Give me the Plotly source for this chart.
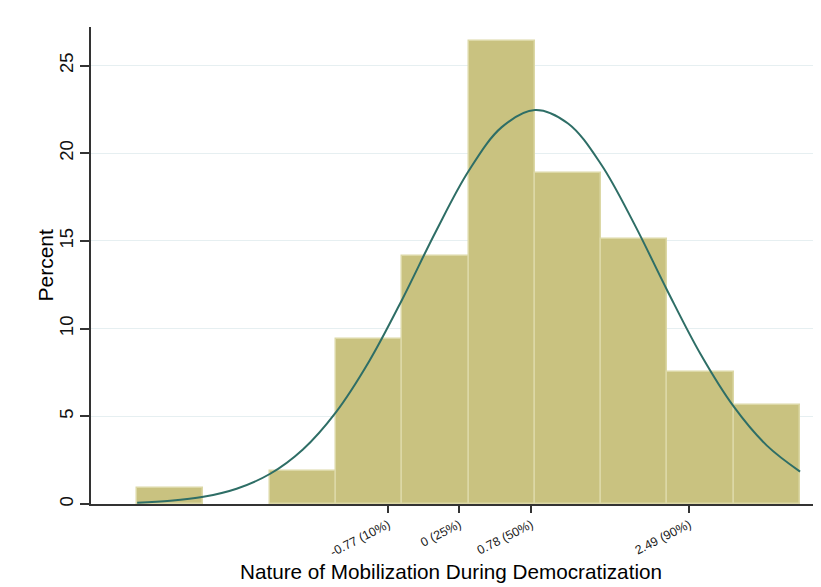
import plotly.graph_objects as go

# Histogram bins (centers) and percent heights
bin_centers = [-3.131, -2.413, -1.695, -0.977, -0.259, 0.459, 1.177, 1.895, 2.613, 3.331]
bin_width = 0.718
percents = [0.94, 0.0, 1.89, 9.43, 14.15, 26.42, 18.87, 15.09, 7.55, 5.66]

# Normal density overlay
curve_x = [-3.49, -3.131, -2.772, -2.413, -2.054, -1.695, -1.336, -0.977, -0.618, -0.259,
           0.100, 0.459, 0.818, 1.177, 1.536, 1.895, 2.254, 2.613, 2.972, 3.331, 3.69]
curve_y = [0.07, 0.18, 0.41, 0.87, 1.71, 3.11, 5.24, 8.14, 11.68, 15.50,
           18.99, 21.49, 22.47, 21.70, 19.36, 15.96, 12.15, 8.54, 5.55, 3.33, 1.85]

# Quantile ticks
tick_vals = [-0.77, 0, 0.78, 2.49]
tick_text = ["-0.77 (10%)", "0 (25%)", "0.78 (50%)", "2.49 (90%)"]
y_ticks = [0, 5, 10, 15, 20, 25]

FONT = "Liberation Sans, Arial, sans-serif"

# empty bins are not drawn
bar_y = [p if p > 0 else None for p in percents]

fig = go.Figure()
fig.add_trace(go.Bar(
    x=bin_centers, y=bar_y, width=[bin_width] * len(bin_centers),
    marker=dict(color="#c9c280", line=dict(color="#dcd8a6", width=1.5)),
    showlegend=False, hoverinfo="x+y",
))
fig.add_trace(go.Scatter(
    x=curve_x, y=curve_y, mode="lines",
    line=dict(color="#2e6e66", width=2, shape="spline"),
    showlegend=False,
))

# page body has an 8px default margin; figure size compensates for it
fig.update_layout(
    width=813, height=579,
    margin=dict(l=83, r=8, t=19, b=83),
    paper_bgcolor="white", plot_bgcolor="white",
    font=dict(family=FONT, color="#000000"),
    bargap=0,
    xaxis=dict(
        range=[-3.99, 3.83], automargin=False,
        tickmode="array", tickvals=tick_vals, ticktext=tick_text,
        tickangle=-27, tickfont=dict(size=12.5, family=FONT, color="#1a1a1a"),
        ticks="outside", ticklen=7, tickcolor="#333", tickwidth=1.5,
        showline=True, linecolor="#333", linewidth=1.5,
        showgrid=False, zeroline=False,
    ),
    yaxis=dict(
        range=[0, 27.2], automargin=False,
        tickmode="array", tickvals=y_ticks,
        tickangle=-90, tickfont=dict(size=18.5, family=FONT, color="#111"),
        ticks="outside", ticklen=9, tickcolor="#333", tickwidth=1.5,
        showline=True, linecolor="#333", linewidth=1.5,
        showgrid=True, gridcolor="#e6eff1", gridwidth=1,
        zeroline=False,
    ),
    annotations=[
        dict(text="Nature of Mobilization During Democratization",
             xref="paper", yref="paper", x=0.499, y=-0.1405,
             xanchor="center", yanchor="middle", showarrow=False,
             font=dict(size=20.7, family=FONT, color="#000")),
        dict(text="Percent", xref="paper", yref="paper", x=-0.0637, y=0.5,
             xanchor="center", yanchor="middle", showarrow=False, textangle=-90,
             font=dict(size=21, family=FONT, color="#000")),
    ],
)

fig.write_html("out.html")
